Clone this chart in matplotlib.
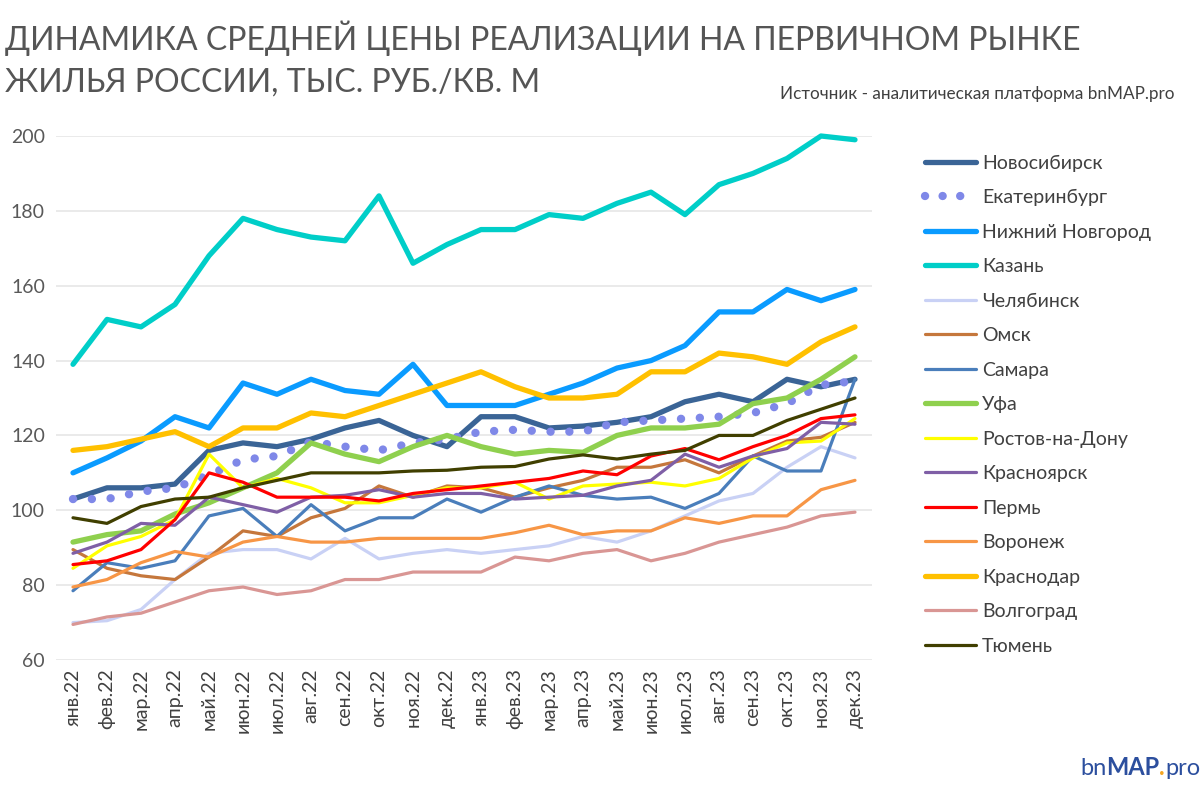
import numpy as np
import matplotlib
matplotlib.use('Agg')
import matplotlib.pyplot as plt

plt.rcParams['font.family'] = ['Lato', 'DejaVu Sans']

months = ['янв.22', 'фев.22', 'мар.22', 'апр.22', 'май.22', 'июн.22', 'июл.22', 'авг.22',
          'сен.22', 'окт.22', 'ноя.22', 'дек.22', 'янв.23', 'фев.23', 'мар.23', 'апр.23',
          'май.23', 'июн.23', 'июл.23', 'авг.23', 'сен.23', 'окт.23', 'ноя.23', 'дек.23']

novosibirsk = [103, 106, 106, 107, 116, 118, 117, 119, 122, 124, 120, 117,
               125, 125, 122, 122.5, 123.5, 125, 129, 131, 129, 135, 133, 135]
ekaterinburg = [103, 103, 105, 106, 109.5, 113.5, 114.5, 118.3, 117, 116, 118, 119,
                121, 121.5, 121, 121, 123.5, 124, 124.5, 125, 126, 128.5, 133.5, 134.5]
n_novgorod = [110, 114, 118.5, 125, 122, 134, 131, 135, 132, 131, 139, 128,
              128, 128, 131, 134, 138, 140, 144, 153, 153, 159, 156, 159]
kazan = [139, 151, 149, 155, 168, 178, 175, 173, 172, 184, 166, 171,
         175, 175, 179, 178, 182, 185, 179, 187, 190, 194, 200, 199]
chelyabinsk = [70, 70.5, 73.5, 81.5, 88.5, 89.5, 89.5, 87, 92.5, 87, 88.5, 89.5,
               88.5, 89.5, 90.5, 93, 91.5, 94.5, 98.5, 102.5, 104.5, 111.5, 117, 114]
omsk = [89.5, 84.5, 82.5, 81.5, 87.5, 94.5, 93, 98, 100.5, 106.5, 103.5, 106.5,
        106, 103.5, 106, 108, 111.5, 111.5, 113.5, 110, 114.5, 118.5, 119.5, 123.5]
samara = [78.5, 86, 84.5, 86.5, 98.5, 100.5, 93, 101.5, 94.5, 98, 98, 103,
          99.5, 103.5, 106.5, 104, 103, 103.5, 100.5, 104.5, 114.5, 110.5, 110.5, 135]
ufa = [91.5, 93.5, 94.5, 99, 102, 106, 110, 118, 115, 113, 117, 120,
       117, 115, 116, 115.5, 120, 122, 122, 123, 128.5, 130, 135, 141]
rostov = [84.5, 90.5, 93, 97.5, 115, 106, 108.5, 106, 102, 102, 104, 106,
          106, 107.5, 103, 106.5, 107, 107.5, 106.5, 108.5, 114, 118, 118.5, 124.5]
krasnoyarsk = [88.5, 91.5, 96.5, 96, 103.5, 101.5, 99.5, 103.5, 104, 105.5, 103.5, 104.5,
               104.5, 103, 103.5, 104, 106.5, 108, 115, 111.5, 114.5, 116.5, 123.5, 123]
perm = [85.5, 86.5, 89.5, 97.5, 110, 107.5, 103.5, 103.5, 103.5, 102.5, 104.5, 105.5,
        106.5, 107.5, 108.5, 110.5, 109.5, 114.5, 116.5, 113.5, 117, 120, 124.5, 125.5]
voronezh = [79.5, 81.5, 86, 89, 87.5, 91.5, 93, 91.5, 91.5, 92.5, 92.5, 92.5,
            92.5, 94, 96, 93.5, 94.5, 94.5, 98, 96.5, 98.5, 98.5, 105.5, 108]
krasnodar = [116, 117, 119, 121, 117, 122, 122, 126, 125, 128, 131, 134,
             137, 133, 130, 130, 131, 137, 137, 142, 141, 139, 145, 149]
volgograd = [69.5, 71.5, 72.5, 75.5, 78.5, 79.5, 77.5, 78.5, 81.5, 81.5, 83.5, 83.5,
             83.5, 87.5, 86.5, 88.5, 89.5, 86.5, 88.5, 91.5, 93.5, 95.5, 98.5, 99.5]
tyumen = [98, 96.5, 101, 103, 103.5, 106, 108, 110, 110, 110, 110.5, 110.7,
          111.5, 111.7, 113.7, 114.8, 113.7, 115, 116, 120, 120, 124, 127, 130]

series = [
    ('Новосибирск', novosibirsk, '#3a6496', 3.8),
    ('Екатеринбург', ekaterinburg, '#7f88e8', 0),
    ('Нижний Новгород', n_novgorod, '#0a9bff', 3.8),
    ('Казань', kazan, '#00cec8', 3.8),
    ('Челябинск', chelyabinsk, '#c9d1f5', 2.3),
    ('Омск', omsk, '#c5773c', 2.3),
    ('Самара', samara, '#4a7ebb', 2.3),
    ('Уфа', ufa, '#8fd04e', 3.8),
    ('Ростов-на-Дону', rostov, '#ffff00', 2.3),
    ('Красноярск', krasnoyarsk, '#7f5fa6', 2.3),
    ('Пермь', perm, '#ff0000', 2.3),
    ('Воронеж', voronezh, '#f79646', 2.3),
    ('Краснодар', krasnodar, '#ffc000', 3.8),
    ('Волгоград', volgograd, '#d99694', 2.3),
    ('Тюмень', tyumen, '#403f00', 2.3),
]

fig = plt.figure(figsize=(12, 7.96), dpi=100)
ax = fig.add_axes([56 / 1200, 1 - 660 / 796, 816 / 1200, 524 / 796])

x = np.arange(len(months))
for i, (name, vals, col, lw) in enumerate(series):
    if name == 'Екатеринбург':
        ax.plot(x, vals, color=col, lw=6, ls=(0, (0.01, 2.25)), dash_capstyle='round',
                label=name, zorder=2 + i, clip_on=False)
    else:
        ax.plot(x, vals, color=col, lw=lw, label=name, zorder=2 + i,
                solid_capstyle='round', clip_on=False)

ax.set_xlim(-0.5, len(months) - 0.5)
ax.set_ylim(60, 200)
ax.set_yticks(range(60, 201, 20))
ax.set_xticks(x)
ax.set_xticklabels(months, rotation=90, fontsize=14, color='#404040')
ax.tick_params(axis='y', labelsize=14, colors='#595959', length=0, pad=8)
ax.tick_params(axis='x', length=0, pad=6)
ax.grid(axis='y', color='#e6e6e6', lw=1.2)
ax.set_axisbelow(True)
for s in ax.spines.values():
    s.set_visible(False)

leg = ax.legend(loc='upper left', bbox_to_anchor=(1.044, 0.998), frameon=False,
                fontsize=14, handlelength=2.6, handletextpad=0.3, labelspacing=0.9,
                labelcolor='#404040')
for h in leg.legend_handles:
    if h.get_label() == 'Екатеринбург':
        h.set_linestyle((0, (0.01, 2.1)))
        h.set_linewidth(6)

fig.text(0.004, 0.952, 'ДИНАМИКА СРЕДНЕЙ ЦЕНЫ РЕАЛИЗАЦИИ НА ПЕРВИЧНОМ РЫНКЕ',
         fontsize=23, color='#555555', va='center', ha='left')
fig.text(0.004, 0.896, 'ЖИЛЬЯ РОССИИ, ТЫС. РУБ./КВ. М',
         fontsize=23, color='#555555', va='center', ha='left')
fig.text(0.979, 0.882, 'Источник - аналитическая платформа bnMAP.pro',
         fontsize=12.3, color='#404040', va='center', ha='right')

# logo
fig.text(0.900, 0.026, 'bn', fontsize=17, color='#2c4f9e', ha='left', va='baseline')
fig.text(0.922, 0.026, 'MAP', fontsize=17, color='#2c4f9e', fontweight='bold',
         ha='left', va='baseline')
fig.text(0.966, 0.026, '.', fontsize=17, color='#f5a623', fontweight='bold',
         ha='left', va='baseline')
fig.text(0.971, 0.026, 'pro', fontsize=17, color='#2c4f9e', ha='left', va='baseline')

fig.savefig('out.png', dpi=100, facecolor='white')
